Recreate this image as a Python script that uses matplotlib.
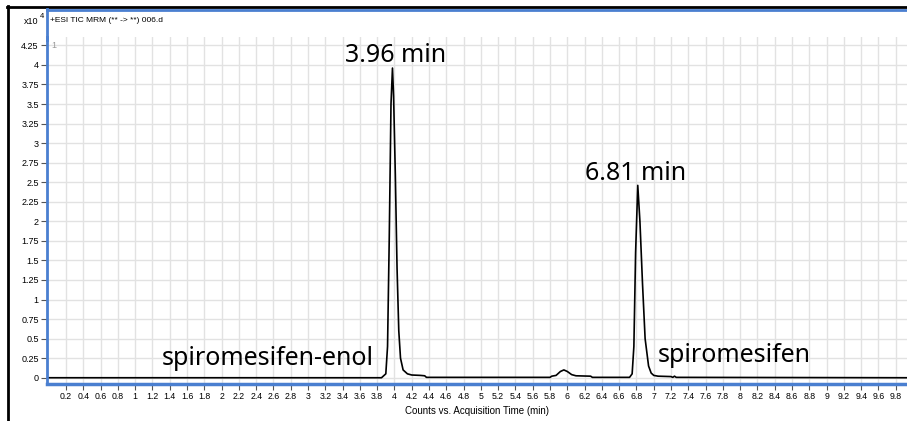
import numpy as np
import matplotlib
matplotlib.use('Agg')
import matplotlib.pyplot as plt
from matplotlib.lines import Line2D

#%% DATA (counts in units of 10^4, time in min)
time_min = [0.0, 3.85, 3.90, 3.92, 3.94, 3.96, 3.977, 3.99, 4.01, 4.03, 4.05, 4.07,
            4.10, 4.15, 4.20, 4.30, 4.35, 4.37,
            5.80, 5.82, 5.87, 5.92, 5.96, 6.00, 6.05, 6.10, 6.27, 6.29,
            6.72, 6.75, 6.77, 6.79, 6.815, 6.84, 6.87, 6.90, 6.94, 6.97, 7.00, 7.05,
            7.20, 7.22, 7.24, 7.26, 7.28, 9.95]
counts = [0.0, 0.0, 0.05, 0.4, 1.8, 3.5, 3.96, 3.6, 2.6, 1.4, 0.6, 0.25,
          0.1, 0.05, 0.035, 0.03, 0.025, 0.005,
          0.005, 0.02, 0.03, 0.08, 0.1, 0.08, 0.04, 0.025, 0.02, 0.005,
          0.005, 0.05, 0.4, 1.6, 2.46, 2.0, 1.2, 0.5, 0.15, 0.06, 0.03, 0.02,
          0.015, 0.005, 0.02, 0.005, 0.005, 0.0]

peak_labels = ['3.96 min', '6.81 min']
compound_labels = ['spiromesifen-enol', 'spiromesifen']

x_ticks = np.round(np.arange(0.2, 9.81, 0.2), 1)
y_ticks = np.round(np.arange(0, 4.26, 0.25), 2)

#%% FIGURE
W, H = 907, 421
fig = plt.figure(figsize=(W / 100, H / 100), dpi=100)

def fx(px):
    return px / W

def fy(py):
    return 1 - py / H

ax = fig.add_axes([fx(47), fy(384), fx(907 - 47), (384 - 37) / H])
ax.plot(time_min, counts, color='black', lw=1.2)
ax.set_xlim(-0.02, 9.93)
ax.set_ylim(-0.08, 4.357)

tick_font = 'Liberation Sans'
ax.set_xticks(x_ticks)
ax.set_xticklabels([f'{v:g}' for v in x_ticks], fontsize=6.3, family=tick_font)
ax.set_yticks(y_ticks)
ax.set_yticklabels([f'{v:g}' for v in y_ticks], fontsize=6.5, family=tick_font)
ax.tick_params(axis='both', length=4, width=0.8, color='#555555', pad=2)
ax.grid(True, color='#e2e2e2', lw=1.0)
ax.set_axisbelow(True)

for side in ['top', 'right']:
    ax.spines[side].set_visible(False)
ax.spines['left'].set_color('#4a7fd0')
ax.spines['left'].set_linewidth(2)
ax.spines['bottom'].set_color('#4a7fd0')
ax.spines['bottom'].set_linewidth(2.5)

ax.set_xlabel('Counts vs. Acquisition Time (min)', fontsize=7, family=tick_font, labelpad=3)

# peak / compound annotations
big_font = 'Noto Sans'
ax.text(4.01, 4.04, peak_labels[0], fontsize=18, family=big_font, ha='center', va='baseline')
ax.text(6.79, 2.53, peak_labels[1], fontsize=18, family=big_font, ha='center', va='baseline')
ax.text(3.76, 0.16, compound_labels[0], fontsize=18, family=big_font, ha='right', va='baseline')
ax.text(7.05, 0.2, compound_labels[1], fontsize=18, family=big_font, ha='left', va='baseline')
ax.text(0.03, 4.25, '1', fontsize=6.5, color='#999999', family=tick_font, va='center')

# panel frame lines
fig.add_artist(Line2D([fx(8), fx(8)], [fy(6), 0], color='black', lw=2))
fig.add_artist(Line2D([fx(7), 1], [fy(7), fy(7)], color='black', lw=2))
fig.add_artist(Line2D([fx(47), 1], [fy(9.5), fy(9.5)], color='#4a7fd0', lw=2))
fig.add_artist(Line2D([fx(47), fx(47)], [fy(9), fy(40)], color='#4a7fd0', lw=2))

fig.text(fx(50), fy(20), '+ESI TIC MRM (** -> **) 006.d', fontsize=6, family=tick_font, va='center')
fig.text(fx(38), fy(21), 'x10', fontsize=6.5, family=tick_font, va='center', ha='right')
fig.text(fx(40), fy(17), '4', fontsize=5.5, family=tick_font, va='center', ha='left')

fig.savefig('out.png', dpi=100)
